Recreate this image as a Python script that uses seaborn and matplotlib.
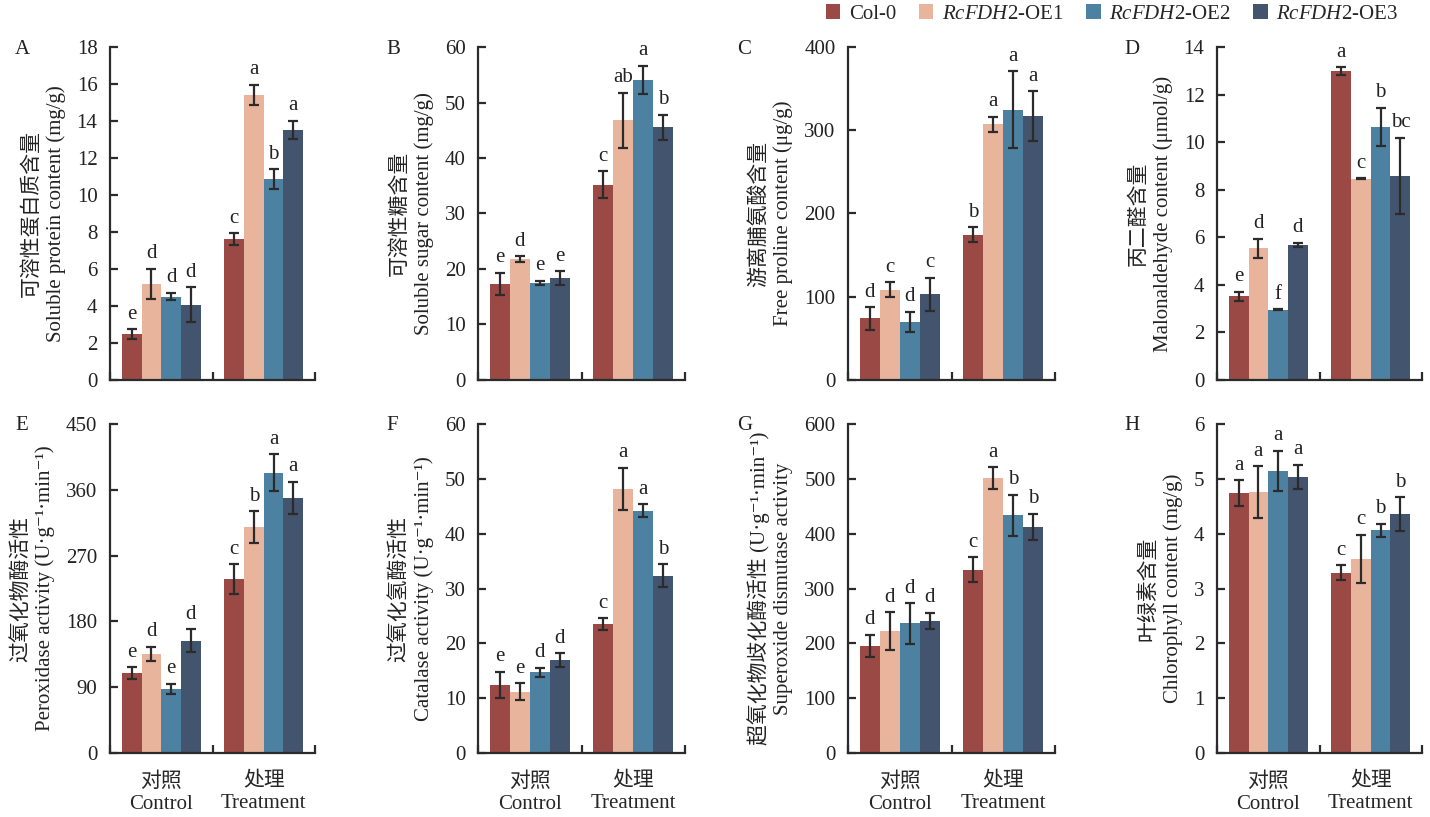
import numpy as np
import pandas as pd
import matplotlib
matplotlib.use("Agg")
import matplotlib.pyplot as plt
import seaborn as sns
from matplotlib.patches import Patch

# groups and lines
groups = ["对照\nControl", "处理\nTreatment"]
lines = ["Col-0", "OE1", "OE2", "OE3"]
legend_labels = ["Col-0", r"$\it{RcFDH2}$-OE1", r"$\it{RcFDH2}$-OE2", r"$\it{RcFDH2}$-OE3"]
colors = ["#9A4944", "#E8B49C", "#4D81A1", "#43546E"]

# values: [control (4 lines), treatment (4 lines)]
protein = [[2.47, 5.2, 4.51, 4.06], [7.62, 15.4, 10.85, 13.52]]
protein_sd = [[0.27, 0.8, 0.2, 0.95], [0.3, 0.55, 0.55, 0.5]]
protein_sig = [["e", "d", "d", "d"], ["c", "a", "b", "a"]]

sugar = [[17.3, 21.8, 17.5, 18.4], [35.2, 46.8, 54.1, 45.5]]
sugar_sd = [[2.0, 0.5, 0.4, 1.2], [2.4, 5.0, 2.5, 2.3]]
sugar_sig = [["e", "d", "e", "e"], ["c", "ab", "a", "b"]]

proline = [[74, 108.5, 69.7, 103], [174.6, 307, 324.7, 316.7]]
proline_sd = [[13.5, 9, 12, 20], [9, 9, 46, 30]]
proline_sig = [["d", "c", "d", "c"], ["b", "a", "a", "a"]]

mda = [[3.52, 5.54, 2.95, 5.68], [12.98, 8.46, 10.64, 8.59]]
mda_sd = [[0.18, 0.4, 0.02, 0.1], [0.17, 0.03, 0.8, 1.6]]
mda_sig = [["e", "d", "f", "d"], ["a", "c", "b", "bc"]]

pod = [[109.3, 135.3, 87.4, 153.5], [237.7, 308.8, 383.5, 348.9]]
pod_sd = [[8, 10, 7, 16], [20.5, 22, 25, 22]]
pod_sig = [["e", "d", "e", "d"], ["c", "b", "a", "a"]]

cat = [[12.4, 11.2, 14.7, 16.9], [23.5, 48.2, 44.2, 32.3]]
cat_sd = [[2.4, 1.5, 0.8, 1.3], [1.1, 3.8, 1.2, 2.1]]
cat_sig = [["e", "e", "d", "d"], ["c", "a", "a", "b"]]

sod = [[195.8, 222.4, 236.3, 241], [334, 501, 433.8, 412]]
sod_sd = [[20, 34, 37, 15], [23, 20, 37.5, 24]]
sod_sig = [["d", "d", "d", "d"], ["c", "a", "b", "b"]]

chl = [[4.74, 4.76, 5.14, 5.04], [3.29, 3.54, 4.06, 4.35]]
chl_sd = [[0.23, 0.47, 0.37, 0.22], [0.13, 0.44, 0.12, 0.31]]
chl_sig = [["a", "a", "a", "a"], ["c", "c", "b", "b"]]

unit = "(U·g⁻¹·min⁻¹)"
panels = [
    ("A", protein, protein_sd, protein_sig, "可溶性蛋白质含量\nSoluble protein content (mg/g)", 18, 2),
    ("B", sugar, sugar_sd, sugar_sig, "可溶性糖含量\nSoluble sugar content (mg/g)", 60, 10),
    ("C", proline, proline_sd, proline_sig, "游离脯氨酸含量\nFree proline content (μg/g)", 400, 100),
    ("D", mda, mda_sd, mda_sig, "丙二醛含量\nMalonaldehyde content (μmol/g)", 14, 2),
    ("E", pod, pod_sd, pod_sig, "过氧化物酶活性\nPeroxidase activity " + unit, 450, 90),
    ("F", cat, cat_sd, cat_sig, "过氧化氢酶活性\nCatalase activity " + unit, 60, 10),
    ("G", sod, sod_sd, sod_sig, "超氧化物歧化酶活性 " + unit + "\nSuperoxide dismutase activity", 600, 100),
    ("H", chl, chl_sd, chl_sig, "叶绿素含量\nChlorophyll content (mg/g)", 6, 1),
]

sns.set_theme(style="ticks")
plt.rcParams["font.family"] = ["Liberation Serif", "Noto Sans CJK SC", "DejaVu Serif"]
plt.rcParams["mathtext.fontset"] = "custom"
plt.rcParams["mathtext.rm"] = "Liberation Serif"
plt.rcParams["mathtext.it"] = "Liberation Serif:italic"
plt.rcParams["axes.unicode_minus"] = False

fig = plt.figure(figsize=(14.3, 8.17), dpi=100)

# axes boxes in pixels (left, right) per column and (top, bottom) per row
col_px = [(110, 315), (478, 685), (848, 1055), (1217, 1422)]
row_px = [(47, 380), (424, 753)]
letter_px = [15, 386, 737, 1124]
W, H = 1430, 817

fs = 15
ink = "#2b2b2b"
for i, (tag, mean, sd, sig, ylabel, ymax, ystep) in enumerate(panels):
    r, c = divmod(i, 4)
    x0, x1 = col_px[c]
    y0, y1 = row_px[r]
    ax = fig.add_axes([x0 / W, 1 - y1 / H, (x1 - x0) / W, (y1 - y0) / H])

    df = pd.DataFrame({
        "group": np.repeat(groups, len(lines)),
        "line": lines * len(groups),
        "value": np.ravel(mean),
        "sd": np.ravel(sd),
        "sig": np.ravel(sig),
    })
    sns.barplot(data=df, x="group", y="value", hue="line", hue_order=lines,
                palette=colors, saturation=1, width=0.77, gap=0,
                errorbar=None, legend=False, ax=ax, linewidth=0)

    bar_conts = list(ax.containers)
    for j, cont in enumerate(bar_conts):
        sub = df[df["line"] == lines[j]]
        for bar, (_, row) in zip(cont.patches, sub.iterrows()):
            xc = bar.get_x() + bar.get_width() / 2
            ax.errorbar(xc, row["value"], yerr=row["sd"], color=ink,
                        capsize=3.3, elinewidth=1.6, capthick=1.6, zorder=5)
            ax.annotate(row["sig"], (xc, row["value"] + row["sd"]),
                        xytext=(0, 4), textcoords="offset points",
                        ha="center", va="bottom", fontsize=fs, color="#222222")

    ax.set_xlim(-0.5, 1.5)
    ax.set_ylim(0, ymax)
    ax.set_yticks(np.arange(0, ymax + ystep / 2, ystep))
    ax.set_xticks([-0.5, 0.5, 1.5])
    ax.set_xticklabels([])
    if r == 1:
        ax.set_xticks([0, 1], minor=True)
        ax.set_xticklabels(groups, minor=True, fontsize=fs, linespacing=1.2)
    ax.tick_params(axis="x", which="minor", length=0, pad=14)
    ax.tick_params(axis="both", which="major", direction="in", length=6,
                   width=1.6, color=ink, labelsize=fs, labelcolor="#222222")
    ax.tick_params(axis="y", which="major", pad=9)
    ax.set_xlabel("")
    ax.set_ylabel(ylabel, fontsize=fs, linespacing=1.3, color="#222222", labelpad=8)
    sns.despine(ax=ax)
    for s in ["left", "bottom"]:
        ax.spines[s].set_linewidth(1.6)
        ax.spines[s].set_color(ink)

    fig.text(letter_px[c] / W, 1 - (y0 + 2) / H, tag, fontsize=fs,
             ha="left", va="center", color="#222222")

handles = [Patch(facecolor=col, edgecolor="none") for col in colors]
fig.legend(handles, legend_labels, loc="center", bbox_to_anchor=(1112 / W, 1 - 14 / H),
           ncol=4, frameon=False, fontsize=fs, handlelength=0.7, handleheight=0.7,
           handletextpad=0.4, columnspacing=1.1)

fig.savefig("out.png", dpi=100)
